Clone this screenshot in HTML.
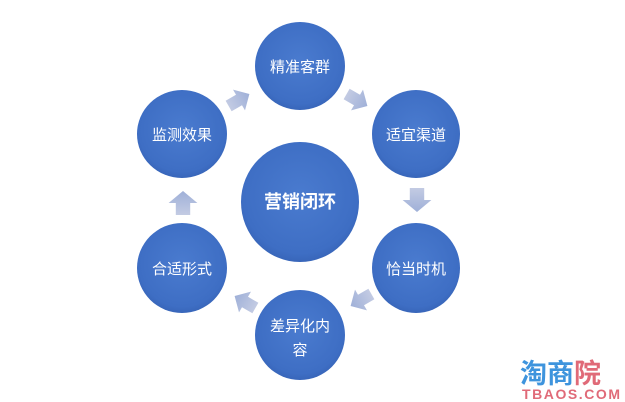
<!DOCTYPE html>
<html><head><meta charset="utf-8"><style>
html,body{margin:0;padding:0;background:#fff;}
svg{display:block;}
text{font-family:"Liberation Sans","Noto Sans CJK SC",sans-serif;}
</style></head><body>
<svg width="625" height="402" viewBox="0 0 625 402" xmlns="http://www.w3.org/2000/svg">
<defs>
<radialGradient id="g" cx="50%" cy="45%" r="60%">
<stop offset="0" stop-color="#4a7bcf"/><stop offset="0.8" stop-color="#3e6ec4"/><stop offset="1" stop-color="#3460b2"/>
</radialGradient>
<linearGradient id="a" x1="0" y1="0" x2="1" y2="0">
<stop offset="0" stop-color="#c3cbe3"/><stop offset="1" stop-color="#9fb0d8"/>
</linearGradient>
<polygon id="arr" points="-12,-6 0,-6 0,-12 12,0 0,12 0,6 -12,6" fill="url(#a)"/>
</defs>
<g fill="url(#g)">
<ellipse cx="300" cy="66" rx="45" ry="44"/>
<ellipse cx="182" cy="134" rx="45" ry="44"/>
<ellipse cx="416" cy="134" rx="44" ry="44"/>
<ellipse cx="300" cy="202" rx="59" ry="60"/>
<ellipse cx="416" cy="268" rx="44" ry="45"/>
<ellipse cx="182" cy="268" rx="45" ry="45"/>
<ellipse cx="300" cy="335" rx="45" ry="45"/>
</g>
<use href="#arr" transform="translate(239,100) rotate(-30)"/>
<use href="#arr" transform="translate(357,100) rotate(30)"/>
<use href="#arr" transform="translate(417,200) rotate(90) scale(1,1.2)"/>
<use href="#arr" transform="translate(361,300) rotate(150)"/>
<use href="#arr" transform="translate(245,302) rotate(210)"/>
<use href="#arr" transform="translate(183,203) rotate(-90) scale(1,1.2)"/>
<g fill="#fff" font-size="15" text-anchor="middle">
<text x="300" y="72">精准客群</text>
<text x="182" y="140">监测效果</text>
<text x="416" y="140">适宜渠道</text>
<text x="300" y="208" font-size="18" font-weight="bold">营销闭环</text>
<text x="416" y="274">恰当时机</text>
<text x="182" y="274">合适形式</text>
<text x="300" y="331">差异化内</text>
<text x="300" y="355">容</text>
</g>
<text x="520" y="383" font-size="27" font-weight="bold" fill="#3e94dd">淘商<tspan fill="#e06a78">院</tspan></text>
<text x="522" y="399" font-size="14" font-weight="bold" fill="#e06a78" textLength="98">TBAOS.COM</text>
</svg>
</body></html>
